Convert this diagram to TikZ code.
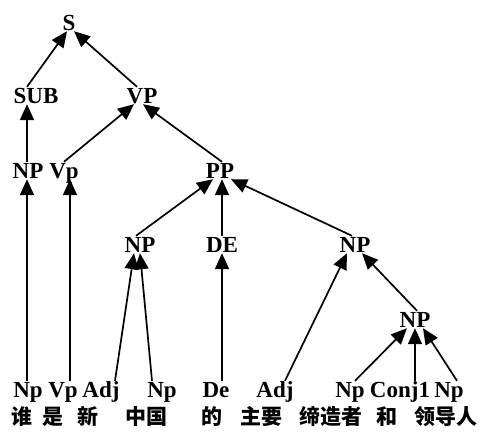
\documentclass[tikz,border=0pt]{standalone}
\usepackage{fontspec}
\setmainfont{Liberation Serif}
\newfontfamily\cjk{Noto Sans CJK SC}
\usetikzlibrary{arrows.meta}
\begin{document}
\begin{tikzpicture}[x=1pt,y=-1pt,
  lbl/.style={anchor=base,inner sep=1pt,font=\fontsize{23}{23}\selectfont\bfseries,text height=15pt,text depth=0pt},
  zh/.style={anchor=base,inner sep=0pt,font=\cjk\fontsize{21}{21}\selectfont\bfseries},
  arr/.style={line width=1.7pt,-{Triangle[length=16pt,width=14pt]}}]
\useasboundingbox (0,0) rectangle (500,439);
% labels
\node[lbl] (S) at (69,30) {S};
\node[lbl] (SUB) at (36,103) {SUB};
\node[lbl] (VP) at (142,103) {VP};
\node[lbl] (NPa) at (28,178) {NP};
\node[lbl] (Vpa) at (64,178) {Vp};
\node[lbl] (PP) at (220,178) {PP};
\node[lbl] (NPb) at (140,252) {NP};
\node[lbl] (DE) at (222,252) {DE};
\node[lbl] (NPc) at (355,252) {NP};
\node[lbl] (NPd) at (415,327) {NP};
\node[lbl] (w1) at (28,397) {Np};
\node[lbl] (w2) at (63,397) {Vp};
\node[lbl] (w3) at (101,397) {Adj};
\node[lbl] (w4) at (162,397) {Np};
\node[lbl] (w5) at (216,397) {De};
\node[lbl] (w6) at (275,397) {Adj};
\node[lbl] (w7) at (350,397) {Np};
\node[lbl] (w8) at (400,397) {Conj1};
\node[lbl] (w9) at (449,397) {Np};
% chinese
\node[zh] (c1) at (22,424) {谁};
\node[zh] (c2) at (53,424) {是};
\node[zh] (c3) at (88,424) {新};
\node[zh] (c4) at (146,424) {中国};
\node[zh] (c5) at (212,424) {的};
\node[zh] (c6) at (261,424) {主要};
\node[zh] (c7) at (331,424) {缔造者};
\node[zh] (c8) at (387,424) {和};
\node[zh] (c9) at (446,424) {领导人};
% connectors
\draw[arr] ([xshift=-9pt]SUB.north) -- ([xshift=-2pt]S.south);
\draw[arr] ([xshift=-5pt]VP.north) -- ([xshift=5pt]S.south);
\draw[arr] ([xshift=-1pt]NPa.north) -- ([xshift=-9pt]SUB.south);
\draw[arr] ([xshift=0pt]Vpa.north) -- ([xshift=-8pt]VP.south);
\draw[arr] ([xshift=2pt]PP.north) -- ([xshift=1pt]VP.south);
\draw[arr] ([xshift=-1pt]w1.north) -- ([xshift=-1pt]NPa.south);
\draw[arr] ([xshift=7pt]w2.north) -- ([xshift=6pt]Vpa.south);
\draw[arr] ([xshift=-4pt]NPb.north) -- ([xshift=-7pt]PP.south);
\draw[arr] ([xshift=0pt]DE.north) -- ([xshift=2pt]PP.south);
\draw[arr] ([xshift=-3pt]NPc.north) -- ([xshift=11pt]PP.south);
\draw[arr] ([xshift=14pt]w3.north) -- ([xshift=-6pt]NPb.south);
\draw[arr] ([xshift=-10pt]w4.north) -- ([xshift=0pt]NPb.south);
\draw[arr] ([xshift=6pt]w5.north) -- ([xshift=0pt]DE.south);
\draw[arr] ([xshift=10pt]w6.north) -- ([xshift=-8pt]NPc.south);
\draw[arr] ([xshift=2pt]NPd.north) -- ([xshift=7pt]NPc.south);
\draw[arr] ([xshift=5pt]w7.north) -- ([xshift=-8pt]NPd.south);
\draw[arr] ([xshift=15pt]w8.north) -- ([xshift=0pt]NPd.south);
\draw[arr] ([xshift=8pt]w9.north) -- ([xshift=8pt]NPd.south);
\end{tikzpicture}
\end{document}
